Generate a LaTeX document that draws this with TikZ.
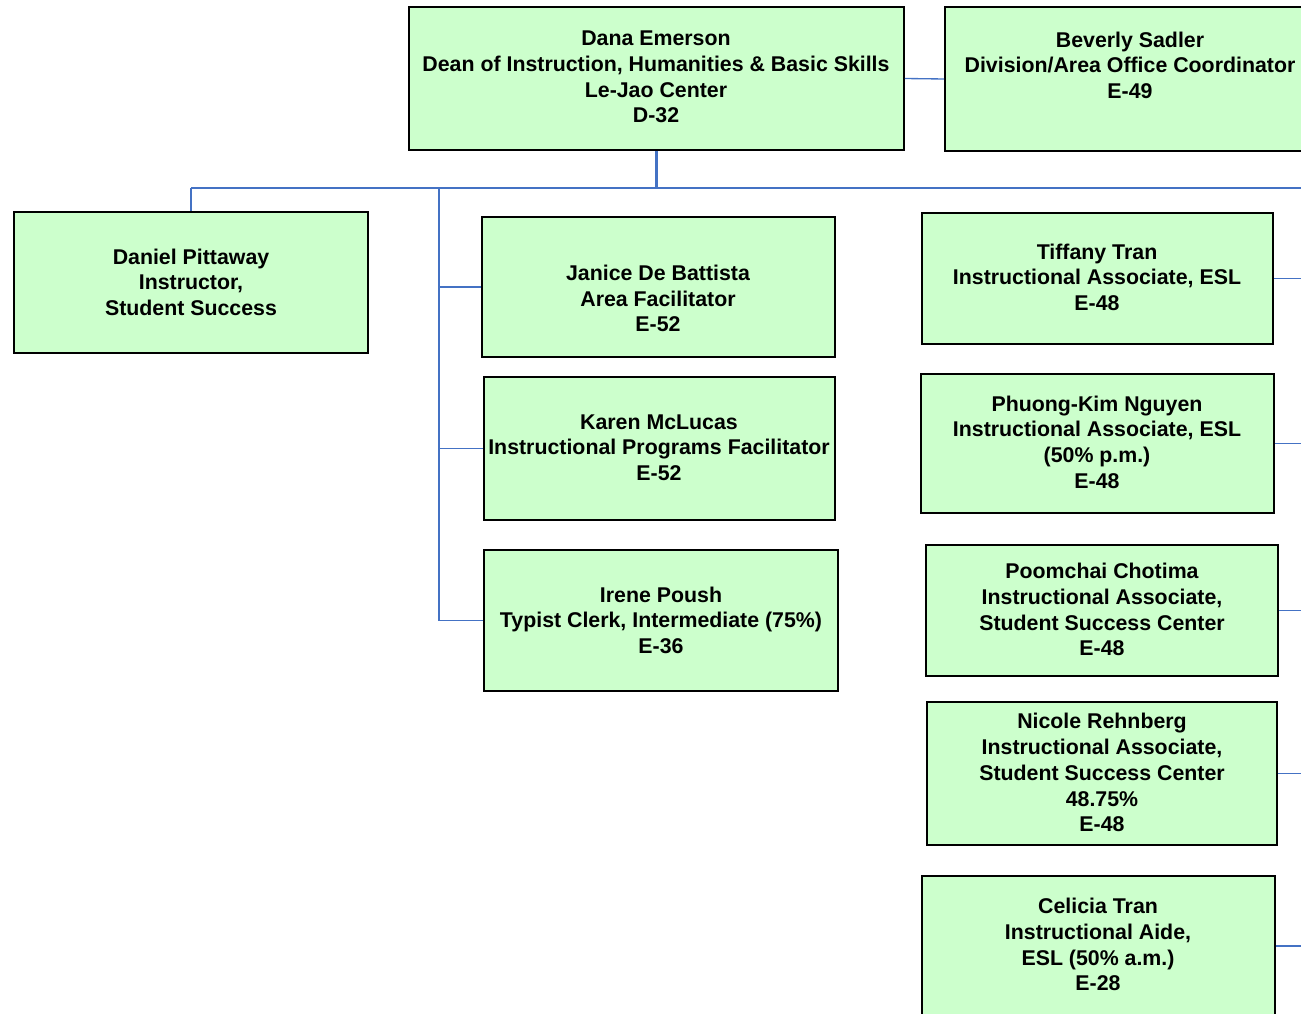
\documentclass[tikz,border=0pt]{standalone}
\usepackage{fontspec}
\setmainfont{Liberation Sans}
\usetikzlibrary{fit}
\definecolor{boxgreen}{HTML}{CCFFCC}
\definecolor{linkblue}{HTML}{4472C4}
\newcommand\mystrut{\rule[-5.7pt]{0pt}{19.1pt}}
\tikzset{
  orgbox/.style={draw=black, line width=1.2pt, fill=boxgreen, inner sep=0pt},
  orgtext/.style={align=center, inner sep=0pt, yshift=-2.5pt, font=\fontsize{16pt}{19.3pt}\selectfont\bfseries,
    execute at begin node=\mystrut, execute at end node=\mystrut},
  link/.style={draw=linkblue, line width=1.6pt},
  thinlink/.style={draw=linkblue, line width=1pt}
}
\begin{document}
\begin{tikzpicture}[x=0.75pt,y=-0.75pt]
\useasboundingbox (0,0) rectangle (1301,1013);
\clip (0,0) rectangle (1301,1013);
% boxes
\node[orgbox, fit={(409,7) (904,150)}] (dana) {};
\node[orgtext] (danat) at (656,77.5) {Dana Emerson\\Dean of Instruction, Humanities \& Basic Skills\\Le-Jao Center\\D-32};
\node[orgbox, fit={(945,7) (1315,151)}] (bev) {};
\node[orgtext] (bevt) at (1130,65.5) {Beverly Sadler\\Division/Area Office Coordinator\\E-49};
\node[orgbox, fit={(14,212) (368,353)}] (daniel) {};
\node[orgtext] (danielt) at (191,282.5) {Daniel Pittaway\\Instructor,\\Student Success};
\node[orgbox, fit={(482,217) (835,357)}] (janice) {};
\node[orgtext] (janicet) at (658,299) {Janice De Battista\\Area Facilitator\\E-52};
\node[orgbox, fit={(484,377) (835,520)}] (karen) {};
\node[orgtext] (karent) at (659,448) {Karen McLucas\\Instructional Programs Facilitator\\E-52};
\node[orgbox, fit={(484,550) (838,691)}] (irene) {};
\node[orgtext] (irenet) at (661,620.5) {Irene Poush\\Typist Clerk, Intermediate (75\%)\\E-36};
\node[orgbox, fit={(922,213) (1273,344)}] (tiffany) {};
\node[orgtext] (tiffanyt) at (1097,277.5) {Tiffany Tran\\Instructional Associate, ESL\\E-48};
\node[orgbox, fit={(921,374) (1274,513)}] (phuong) {};
\node[orgtext] (phuongt) at (1097,442.5) {Phuong-Kim Nguyen\\Instructional Associate, ESL\\(50\% p.m.)\\E-48};
\node[orgbox, fit={(926,545) (1278,676)}] (poom) {};
\node[orgtext] (poomt) at (1102,610) {Poomchai Chotima\\Instructional Associate,\\Student Success Center\\E-48};
\node[orgbox, fit={(927,702) (1277,845)}] (nicole) {};
\node[orgtext] (nicolet) at (1102,773) {Nicole Rehnberg\\Instructional Associate,\\Student Success Center\\48.75\%\\E-48};
\node[orgbox, fit={(922,876) (1275,1016)}] (celicia) {};
\node[orgtext] (celiciat) at (1098,945) {Celicia Tran\\Instructional Aide,\\ESL (50\% a.m.)\\E-28};
% coordinates
\coordinate (busL) at (191,188);
\coordinate (busM) at (439,188);
\coordinate (busR) at (1301,188);
\coordinate (rt) at (1301,0);
% connectors
\draw[thinlink] (dana.east) -- (bev.west);
\draw[link] (dana.south) -- (dana.south |- busR);
\draw[link] (busM) -- (busR);
\draw[thinlink] (busL) -- (busM);
\draw[thinlink] (busL) -- (daniel.north);
\draw[thinlink] (busM) -- (busM |- irene.west) -- (irene.west);
\draw[thinlink] (busM |- janice.west) -- (janice.west);
\draw[thinlink] (busM |- karen.west) -- (karen.west);
\draw[thinlink] (tiffany.east) -- (tiffany.east -| rt);
\draw[thinlink] (phuong.east) -- (phuong.east -| rt);
\draw[thinlink] (poom.east) -- (poom.east -| rt);
\draw[thinlink] (nicole.east) -- (nicole.east -| rt);
\draw[thinlink] (celicia.east) -- (celicia.east -| rt);
\end{tikzpicture}
\end{document}
